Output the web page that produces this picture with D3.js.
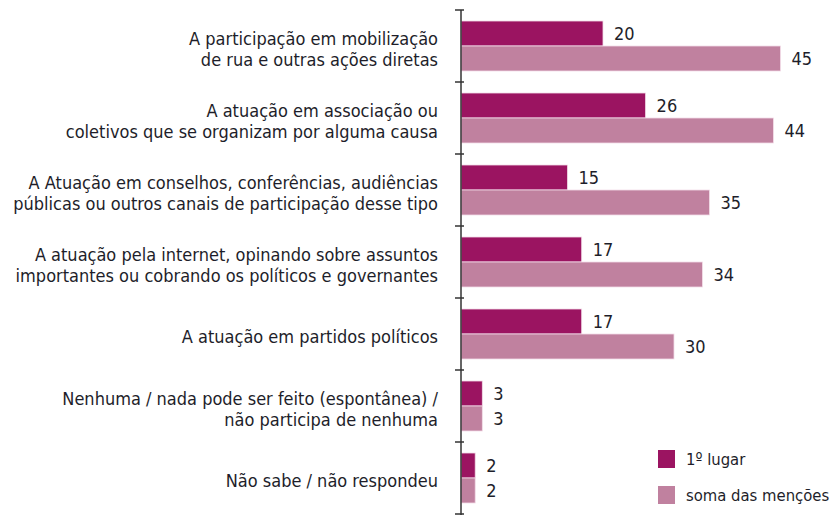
<!DOCTYPE html>
<html>
<head>
<meta charset="utf-8">
<script src="https://cdn.jsdelivr.net/npm/d3@7"></script>
<style>
  body { margin: 0; background: #fff; }
  svg { display: block; font-family: "DejaVu Sans Condensed", "DejaVu Sans", sans-serif; }
</style>
</head>
<body>
<div id="chart"></div>
<script>
const categories = [
  ["A participação em mobilização", "de rua e outras ações diretas"],
  ["A atuação em associação ou", "coletivos que se organizam por alguma causa"],
  ["A Atuação em conselhos, conferências, audiências", "públicas ou outros canais de participação desse tipo"],
  ["A atuação pela internet, opinando sobre assuntos", "importantes ou cobrando os políticos e governantes"],
  ["A atuação em partidos políticos"],
  ["Nenhuma / nada pode ser feito (espontânea) /", "não participa de nenhuma"],
  ["Não sabe / não respondeu"]
];
const series = ["1º lugar", "soma das menções"];
const primeiro = [20, 26, 15, 17, 17, 3, 2];
const soma = [45, 44, 35, 34, 30, 3, 2];
const colors = ["#9b1461", "#c0819f"];

const width = 835, height = 515;
const svg = d3.select("#chart").append("svg")
  .attr("width", width).attr("height", height)
  .attr("viewBox", [0, 0, width, height]);

const axisX = 461;
const x = d3.scaleLinear().domain([0, 45]).range([axisX, 780.5]);
const y = d3.scaleBand().domain(d3.range(categories.length)).range([10, 514]);
const inner = d3.scaleBand().domain([0, 1]).range([11, 61]);

const rows = categories.map((c, i) => ({i, label: c, vals: [primeiro[i], soma[i]]}));

const g = svg.append("g").selectAll("g")
  .data(rows)
  .join("g")
  .attr("transform", d => `translate(0,${y(d.i)})`);

g.selectAll("rect")
  .data(d => d.vals.map((v, k) => ({v, k})))
  .join("rect")
  .attr("x", x(0))
  .attr("y", d => inner(d.k))
  .attr("width", d => x(d.v) - x(0))
  .attr("height", inner.bandwidth())
  .attr("fill", d => colors[d.k])
  .attr("stroke", "#f3dde8")
  .attr("stroke-width", 0.8);

g.selectAll("text.val")
  .data(d => d.vals.map((v, k) => ({v, k})))
  .join("text")
  .attr("class", "val")
  .attr("x", d => x(d.v) + 11)
  .attr("y", d => inner(d.k) + inner.bandwidth() / 2)
  .attr("dy", "0.35em")
  .attr("font-size", 18)
  .attr("fill", "#1e1e2a")
  .text(d => d.v);

// category labels, right aligned against the axis
g.append("text")
  .attr("text-anchor", "end")
  .attr("font-size", 18)
  .attr("fill", "#1e1e2a")
  .selectAll("tspan")
  .data(d => d.label.map((t, j) => ({t, j, n: d.label.length})))
  .join("tspan")
  .attr("x", 438)
  .attr("y", d => y.bandwidth() / 2 + 3 + (d.j - (d.n - 1) / 2) * 21.5)
  .attr("dy", "0.35em")
  .text(d => d.t);

// axis with ticks between bands
const axis = svg.append("g").attr("stroke", "#333").attr("stroke-width", 1.5);
axis.append("line")
  .attr("x1", axisX).attr("x2", axisX)
  .attr("y1", 10).attr("y2", height);
axis.selectAll("line.tick")
  .data(d3.range(categories.length + 1))
  .join("line")
  .attr("class", "tick")
  .attr("x1", axisX - 6).attr("x2", axisX + 3)
  .attr("y1", i => 10 + i * y.step())
  .attr("y2", i => 10 + i * y.step());

// legend
const legend = svg.append("g").selectAll("g")
  .data(series)
  .join("g")
  .attr("transform", (d, i) => `translate(658,${450 + i * 36})`);
legend.append("rect")
  .attr("width", 17).attr("height", 18)
  .attr("fill", (d, i) => colors[i]);
legend.append("text")
  .attr("x", 28).attr("y", 9).attr("dy", "0.35em")
  .attr("font-size", 16.5)
  .attr("fill", "#1e1e2a")
  .text(d => d);
</script>
</body>
</html>
